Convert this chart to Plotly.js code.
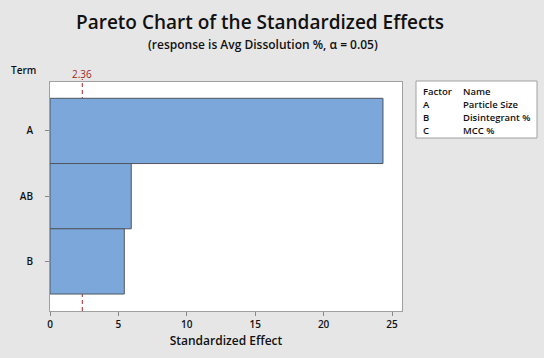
<!DOCTYPE html>
<html><head><meta charset="utf-8">
<script src="https://cdn.plot.ly/plotly-3.0.1.min.js"></script>
<style>html,body{margin:0;padding:0;background:#e6e6e6;}#chart{width:544px;height:358px;}</style>
</head><body><div id="chart"></div>
<script>
const terms = ['A', 'AB', 'B'];
const effects = [24.34, 5.94, 5.43];
const critical = 2.36;
const factorCodes = ['A', 'B', 'C'];
const factorNames = ['Particle Size', 'Disintegrant %', 'MCC %'];

const font = 'Open Sans, Noto Sans, sans-serif';
const H = 229; // plot height px
const py = (pix) => (311 - pix) / H; // pixel y -> paper y
const px = (pix) => (pix - 50) / 352; // pixel x -> paper x

const trace = {
  type: 'bar', orientation: 'h',
  x: effects, y: terms, width: 1,
  marker: {color: '#7ba7da', line: {color: '#4f5660', width: 1}},
  hoverinfo: 'x+y', showlegend: false
};

const annotations = [
  {xref: 'paper', yref: 'paper', x: px(260), y: py(22), xanchor: 'center', yanchor: 'middle',
   text: 'Pareto Chart of the Standardized Effects', showarrow: false,
   font: {family: font, size: 19, weight: 600, color: '#111'}},
  {xref: 'paper', yref: 'paper', x: px(263), y: py(45), xanchor: 'center', yanchor: 'middle',
   text: '(response is Avg Dissolution %, α = 0.05)', showarrow: false,
   font: {family: font, size: 12, weight: 600, color: '#111'}},
  {xref: 'x', yref: 'paper', x: critical, y: py(74), yanchor: 'middle', xanchor: 'center',
   text: critical.toFixed(2), showarrow: false, font: {family: font, size: 10, color: '#a0262a'}},
  {xref: 'paper', yref: 'paper', x: px(23), y: py(70), xanchor: 'center', yanchor: 'middle',
   text: 'Term', showarrow: false, font: {family: font, size: 10, weight: 600, color: '#111'}}
];
const rows = [['Factor', 'Name']].concat(factorCodes.map((c, i) => [c, factorNames[i]]));
rows.forEach((r, i) => {
  const yy = py(91 + i * 13);
  annotations.push({xref: 'paper', yref: 'paper', x: px(421), y: yy, xanchor: 'left', yanchor: 'middle',
    text: r[0], showarrow: false, font: {family: font, size: 9.5, weight: 600, color: '#111'}});
  annotations.push({xref: 'paper', yref: 'paper', x: px(461), y: yy, xanchor: 'left', yanchor: 'middle',
    text: r[1], showarrow: false, font: {family: font, size: 9.5, weight: 600, color: '#111'}});
});

const layout = {
  width: 544, height: 358,
  margin: {l: 50, r: 142, t: 82, b: 47},
  paper_bgcolor: '#e6e6e6', plot_bgcolor: '#ffffff',
  xaxis: {
    range: [0, 25.73], tickvals: [0, 5, 10, 15, 20, 25], ticks: 'outside', ticklen: 4, tickcolor: '#888',
    showgrid: false, zeroline: false, showline: true, linecolor: '#a0a0a0', mirror: true,
    tickfont: {family: font, size: 10, weight: 600, color: '#111'},
    title: {text: 'Standardized Effect', font: {family: font, size: 12, weight: 600, color: '#111'}, standoff: 6}
  },
  yaxis: {
    type: 'category', categoryorder: 'array', categoryarray: ['B', 'AB', 'A'],
    range: [-0.76, 2.75], ticks: 'outside', ticklen: 4, tickcolor: '#888',
    showgrid: false, zeroline: false, showline: true, linecolor: '#a0a0a0', mirror: true,
    tickfont: {family: font, size: 10, weight: 600, color: '#111'}, ticklabelstandoff: 10
  },
  shapes: [
    {type: 'line', xref: 'x', yref: 'paper', x0: critical, x1: critical, y0: 0, y1: py(79),
     line: {color: '#a0262a', width: 1, dash: '4px,3px'}, layer: 'below'},
    {type: 'rect', xref: 'paper', yref: 'paper', x0: px(416), x1: px(537), y0: py(138), y1: py(81),
     line: {color: '#a0a0a0', width: 1}, fillcolor: '#ffffff', layer: 'below'}
  ],
  annotations: annotations
};

Plotly.newPlot('chart', [trace], layout, {displayModeBar: false, staticPlot: true});
</script></body></html>
